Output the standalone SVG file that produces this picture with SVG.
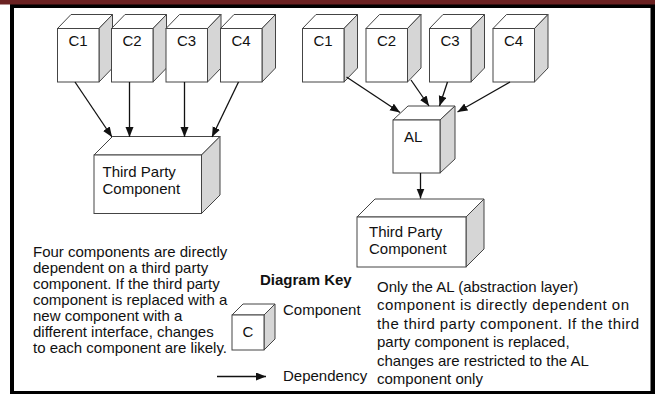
<svg xmlns="http://www.w3.org/2000/svg" width="655" height="394" viewBox="0 0 655 394">
<style>
text{font-family:"Liberation Sans",Arial,sans-serif;font-size:15px;fill:#111}
.f{fill:#fff;stroke:#444;stroke-width:1}
.s{fill:#d6d6d6;stroke:#444;stroke-width:1}
.c line{stroke:#111;stroke-width:1.3}
.b{font-weight:bold}
</style>
<defs>
<marker id="ah" markerUnits="userSpaceOnUse" markerWidth="11" markerHeight="9" refX="10" refY="4" orient="auto">
<path d="M0,0 L10,4 L0,8 z" fill="#111"/>
</marker>
</defs>
<rect x="0" y="0" width="655" height="394" fill="#fff"/>
<rect x="10" y="4" width="645" height="390" fill="#000"/>
<rect x="0" y="0" width="655" height="4.5" fill="#6b2222"/>
<rect x="14" y="8" width="636.5" height="383" fill="#fff"/>

<!-- left cubes -->
<g id="l-c1">
<polygon class="f" points="57.5,28.5 71,14.5 112.5,14.5 99,28.5"/>
<polygon class="s" points="99,28.5 112.5,14.5 112.5,68 99,82"/>
<rect class="f" x="57.5" y="28.5" width="41.5" height="53.5"/>
<text x="68.5" y="45.5">C1</text>
</g>
<g id="l-c2">
<polygon class="f" points="111.5,28.5 125,14.5 166.5,14.5 153,28.5"/>
<polygon class="s" points="153,28.5 166.5,14.5 166.5,68 153,82"/>
<rect class="f" x="111.5" y="28.5" width="41.5" height="53.5"/>
<text x="122.5" y="45.5">C2</text>
</g>
<g id="l-c3">
<polygon class="f" points="166,28.5 179.5,14.5 221,14.5 207.5,28.5"/>
<polygon class="s" points="207.5,28.5 221,14.5 221,68 207.5,82"/>
<rect class="f" x="166" y="28.5" width="41.5" height="53.5"/>
<text x="177" y="45.5">C3</text>
</g>
<g id="l-c4">
<polygon class="f" points="220.5,28.5 234,14.5 275.5,14.5 262,28.5"/>
<polygon class="s" points="262,28.5 275.5,14.5 275.5,68 262,82"/>
<rect class="f" x="220.5" y="28.5" width="41.5" height="53.5"/>
<text x="231.5" y="45.5">C4</text>
</g>
<g id="l-tpc">
<polygon class="f" points="94,155 112.5,136.5 220,136.5 201.5,155"/>
<polygon class="s" points="201.5,155 220,136.5 220,195 201.5,213.5"/>
<rect class="f" x="94" y="155" width="107.5" height="58.5"/>
<text x="102.5" y="176.5">Third Party</text>
<text x="102.5" y="193.5">Component</text>
</g>

<!-- right cubes -->
<g id="r-c1">
<polygon class="f" points="302.5,28.5 316,14.5 357.5,14.5 344,28.5"/>
<polygon class="s" points="344,28.5 357.5,14.5 357.5,68 344,82"/>
<rect class="f" x="302.5" y="28.5" width="41.5" height="53.5"/>
<text x="313.5" y="45.5">C1</text>
</g>
<g id="r-c2">
<polygon class="f" points="366,28.5 379.5,14.5 421,14.5 407.5,28.5"/>
<polygon class="s" points="407.5,28.5 421,14.5 421,68 407.5,82"/>
<rect class="f" x="366" y="28.5" width="41.5" height="53.5"/>
<text x="377" y="45.5">C2</text>
</g>
<g id="r-c3">
<polygon class="f" points="429.5,28.5 443,14.5 484.5,14.5 471,28.5"/>
<polygon class="s" points="471,28.5 484.5,14.5 484.5,68 471,82"/>
<rect class="f" x="429.5" y="28.5" width="41.5" height="53.5"/>
<text x="440.5" y="45.5">C3</text>
</g>
<g id="r-c4">
<polygon class="f" points="493,28.5 506.5,14.5 548,14.5 534.5,28.5"/>
<polygon class="s" points="534.5,28.5 548,14.5 548,68 534.5,82"/>
<rect class="f" x="493" y="28.5" width="41.5" height="53.5"/>
<text x="504" y="45.5">C4</text>
</g>
<g id="r-al">
<polygon class="f" points="393,120 408,106 455,106 440,120"/>
<polygon class="s" points="440,120 455,106 455,159 440,173"/>
<rect class="f" x="393" y="120" width="47" height="53"/>
<text x="404" y="141.5">AL</text>
</g>
<g id="r-tpc">
<polygon class="f" points="357,217 375,199 484,199 466,217"/>
<polygon class="s" points="466,217 484,199 484,249 466,267"/>
<rect class="f" x="357" y="217" width="109" height="50"/>
<text x="369" y="236.5">Third Party</text>
<text x="369" y="254">Component</text>
</g>

<!-- key -->
<g id="key-c">
<polygon class="f" points="232,315 243,304 275,304 264,315"/>
<polygon class="s" points="264,315 275,304 275,339 264,350"/>
<rect class="f" x="232" y="315" width="32" height="35"/>
<text x="242.5" y="336.5">C</text>
</g>

<g class="c" id="connectors">
<line x1="75" y1="82" x2="112" y2="137" marker-end="url(#ah)"/>
<line x1="129.5" y1="82" x2="129.5" y2="137" marker-end="url(#ah)"/>
<line x1="184.5" y1="82" x2="184.5" y2="137" marker-end="url(#ah)"/>
<line x1="238.5" y1="82" x2="212" y2="137" marker-end="url(#ah)"/>
<line x1="346.5" y1="77" x2="400" y2="112.5" marker-end="url(#ah)"/>
<line x1="411" y1="80" x2="429" y2="106" marker-end="url(#ah)"/>
<line x1="447.5" y1="82" x2="439.5" y2="106" marker-end="url(#ah)"/>
<line x1="510" y1="82" x2="457.5" y2="112" marker-end="url(#ah)"/>
<line x1="420.5" y1="173" x2="420.5" y2="198.5" marker-end="url(#ah)"/>
<line x1="217" y1="376.5" x2="266" y2="376.5" marker-end="url(#ah)"/>
</g>

<g id="texts">
<text x="33" y="257">Four components are directly</text>
<text x="33" y="273">dependent on a third party</text>
<text x="33" y="289">component. If the third party</text>
<text x="33" y="305">component is replaced with a</text>
<text x="33" y="321">new component with a</text>
<text x="33" y="337">different interface, changes</text>
<text x="33" y="353">to each component are likely.</text>
<text class="b" x="260" y="285">Diagram Key</text>
<text x="283" y="315">Component</text>
<text x="283" y="381">Dependency</text>
<text x="377" y="292">Only the AL (abstraction layer)</text>
<text x="377" y="310.4" textLength="252" lengthAdjust="spacing">component is directly dependent on</text>
<text x="377" y="328.8" textLength="262" lengthAdjust="spacing">the third party component. If the third</text>
<text x="377" y="347.2">party component is replaced,</text>
<text x="377" y="365.6">changes are restricted to the AL</text>
<text x="377" y="384">component only</text>
</g>
</svg>
